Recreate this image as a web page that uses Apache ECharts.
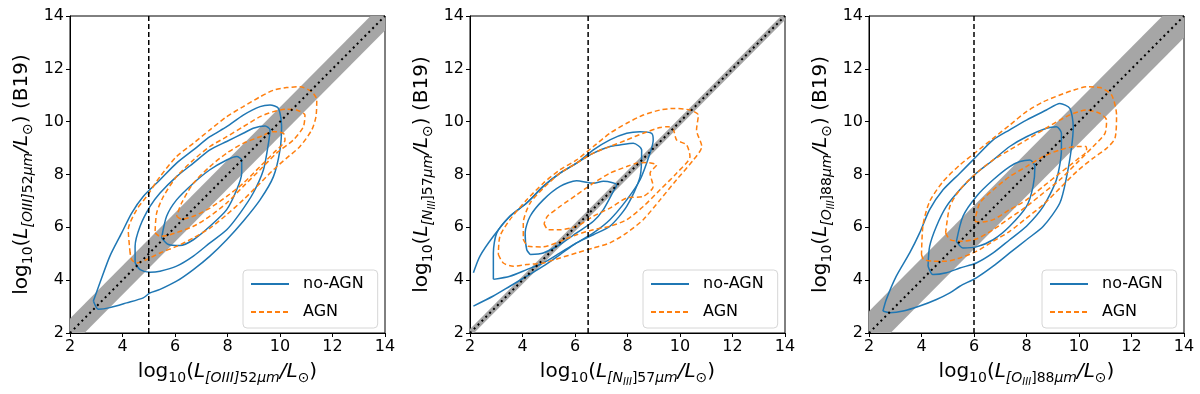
<!DOCTYPE html>
<html>
<head>
<meta charset="utf-8">
<script src="https://cdn.jsdelivr.net/npm/echarts@6/dist/echarts.min.js"></script>
<style>
  html, body { margin: 0; padding: 0; background: #fff; }
  #chart { width: 1200px; height: 394px; }
</style>
</head>
<body>
<div id="chart"></div>
<script>
// axis ticks (same on every panel)
const ticks = [2, 4, 6, 8, 10, 12, 14];

// vertical threshold line, half width of grey band around y = x
const vlineX = [5, 6.5, 6];
const bandHalfWidth = [0.55, 0.15, 0.82];
const diagX = [2, 14];

// panel 1 : [OIII]52um
const p1NoAgn = [
  [[2.89,3.21],[3.08,2.9],[3.52,2.96],[4.16,3.14],[4.79,3.33],[5.05,3.52],[5.43,3.65],[6.06,3.96],[6.7,4.4],[7.33,4.91],[7.97,5.53],[8.6,6.23],[9.24,7.04],[9.75,7.92],[10.0,8.93],[10.06,9.81],[9.94,10.5],[9.62,10.63],[9.24,10.57],[8.6,10.25],[7.97,9.81],[7.33,9.43],[6.7,8.93],[6.06,8.43],[5.43,7.8],[4.79,7.17],[4.35,6.54],[3.97,5.79],[3.52,4.91],[3.14,3.9]],
  [[4.48,4.65],[4.67,4.4],[5.05,4.3],[5.43,4.34],[6.06,4.53],[6.7,4.91],[7.33,5.41],[7.97,5.91],[8.48,6.54],[8.98,7.3],[9.37,8.18],[9.56,9.18],[9.62,9.69],[9.43,9.84],[8.98,9.75],[8.6,9.56],[7.97,9.25],[7.33,8.93],[6.7,8.43],[6.06,7.92],[5.43,7.3],[5.05,6.79],[4.67,6.04],[4.48,5.28]],
  [[5.49,5.6],[5.75,5.35],[6.19,5.31],[6.7,5.53],[7.33,6.04],[7.97,6.67],[8.35,7.42],[8.54,8.05],[8.54,8.55],[8.35,8.68],[7.97,8.55],[7.33,8.18],[6.7,7.67],[6.06,7.04],[5.68,6.42]]
];
const p1Agn = [
  [[4.29,5.03],[4.22,5.91],[4.54,6.67],[4.92,7.17],[5.43,7.92],[6.06,8.68],[6.7,9.18],[7.33,9.69],[7.97,10.19],[8.6,10.57],[9.24,10.94],[9.75,11.19],[10.25,11.29],[10.76,11.32],[11.21,11.13],[11.4,10.82],[11.37,10.19],[11.21,9.69],[10.76,9.06],[10.25,8.62],[9.75,8.18],[9.24,7.67],[8.6,7.04],[7.97,6.48],[7.33,5.97],[6.7,5.6],[6.06,5.28],[5.43,5.03],[4.92,4.78],[4.54,4.65],[4.35,4.78]],
  [[5.24,5.79],[5.43,5.66],[5.81,5.72],[6.7,6.04],[7.33,6.42],[7.97,6.92],[8.6,7.55],[9.24,8.18],[9.87,8.81],[10.51,9.31],[10.89,9.81],[10.95,10.25],[10.63,10.44],[10.25,10.47],[9.75,10.38],[9.24,10.19],[8.6,9.81],[7.97,9.43],[7.33,9.06],[6.7,8.55],[6.06,7.92],[5.56,7.17],[5.3,6.54]],
  [[6.06,6.42],[6.25,6.31],[6.7,6.42],[7.33,6.73],[7.97,7.17],[8.6,7.67],[9.24,8.3],[9.75,8.81],[10.19,9.31],[10.13,9.56],[9.75,9.62],[9.24,9.43],[8.6,9.18],[7.97,8.81],[7.33,8.3],[6.7,7.67],[6.25,6.92]]
];

// panel 2 : [NIII]57um (outer no-AGN contour runs off the left edge)
const p2NoAgn = [
  [[2.13,4.28],[2.38,4.91],[2.89,5.66],[3.52,6.42],[4.16,6.92],[4.79,7.55],[5.43,8.05],[6.06,8.43],[6.7,8.93],[7.33,9.31],[7.97,9.56],[8.48,9.62],[8.92,9.56],[8.98,9.31],[8.86,8.81],[8.48,7.8],[7.97,7.04],[7.33,6.29],[6.7,5.79],[6.06,5.41],[5.43,4.97],[4.79,4.53],[4.16,4.15],[3.52,3.77],[2.89,3.4],[2.13,3.02]],
  [[2.89,4.03],[3.52,4.15],[4.16,4.4],[4.79,4.65],[5.43,5.03],[6.06,5.41],[6.7,5.72],[7.33,6.04],[7.97,6.79],[8.48,7.92],[8.54,8.93],[8.22,9.18],[7.71,9.12],[7.33,9.06],[6.7,8.81],[6.06,8.43],[5.43,8.05],[4.79,7.55],[4.16,6.92],[3.52,6.42],[3.02,5.79],[2.89,5.03]],
  [[4.29,4.97],[4.79,5.03],[5.43,5.35],[6.06,5.79],[6.7,6.23],[7.08,6.67],[7.46,7.36],[7.59,7.61],[7.4,7.7],[7.08,7.74],[6.7,7.67],[6.06,7.76],[5.43,7.55],[4.79,7.04],[4.29,6.42],[4.1,5.79],[4.16,5.16]]
];
const p2Agn = [
  [[3.08,4.97],[3.27,4.65],[3.65,4.53],[4.16,4.59],[4.79,4.65],[5.43,4.84],[6.06,5.03],[6.7,5.22],[7.33,5.41],[7.97,5.79],[8.6,6.29],[9.24,7.04],[9.87,7.8],[10.51,8.55],[10.83,9.06],[10.63,9.69],[10.7,10.25],[10.38,10.44],[9.75,10.5],[9.24,10.44],[8.6,10.25],[7.97,9.94],[7.33,9.56],[6.7,9.06],[6.06,8.55],[5.43,8.18],[4.79,7.67],[4.16,7.04],[3.52,6.29],[3.14,5.66]],
  [[4.03,5.54],[4.22,5.28],[4.79,5.26],[5.43,5.47],[6.06,5.72],[6.7,5.91],[7.33,6.04],[7.97,6.29],[8.6,6.79],[9.24,7.42],[9.87,8.05],[10.38,8.68],[10.25,9.12],[9.87,9.31],[9.75,9.69],[9.56,9.81],[9.24,9.78],[8.6,9.56],[7.97,9.31],[7.33,9.06],[6.7,8.81],[6.06,8.43],[5.43,8.05],[4.79,7.48],[4.29,6.92],[4.03,6.16]],
  [[4.82,6.14],[4.98,5.91],[5.43,5.91],[6.06,6.04],[6.7,6.42],[7.33,6.73],[7.97,7.11],[8.6,7.17],[8.98,7.55],[8.86,8.05],[9.11,8.36],[8.73,8.45],[8.35,8.43],[7.97,8.3],[7.33,8.05],[6.7,7.67],[6.06,7.23],[5.43,6.79],[4.95,6.42]]
];

// panel 3 : [OIII]88um
const p3NoAgn = [
  [[2.53,2.83],[2.79,2.77],[3.3,2.83],[3.93,3.02],[4.57,3.27],[5.08,3.52],[5.46,3.77],[6.09,4.09],[6.73,4.53],[7.36,5.03],[8.0,5.53],[8.64,6.04],[9.27,6.92],[9.53,7.92],[9.72,9.06],[9.78,9.81],[9.65,10.5],[9.27,10.69],[8.76,10.44],[8.0,10.06],[7.36,9.69],[6.73,9.31],[6.09,8.68],[5.46,8.05],[4.82,7.42],[4.31,6.67],[3.93,5.79],[3.55,5.03],[3.04,4.15],[2.66,3.27]],
  [[4.25,4.53],[4.44,4.21],[4.95,4.28],[5.46,4.46],[6.09,4.65],[6.73,5.03],[7.36,5.53],[8.0,6.04],[8.64,6.79],[9.14,7.8],[9.33,8.93],[9.33,9.56],[9.14,9.81],[8.76,9.75],[8.0,9.43],[7.36,9.06],[6.73,8.55],[6.09,8.05],[5.46,7.42],[4.95,6.79],[4.57,6.04],[4.31,5.28]],
  [[5.33,5.47],[5.58,5.22],[6.09,5.26],[6.73,5.53],[7.36,6.04],[8.0,6.79],[8.25,7.55],[8.32,8.3],[8.13,8.55],[7.75,8.49],[7.36,8.3],[6.73,7.8],[6.09,7.17],[5.58,6.42]]
];
const p3Agn = [
  [[4.0,4.97],[4.08,4.78],[4.44,4.72],[4.95,4.72],[5.46,4.84],[6.09,5.09],[6.73,5.47],[7.36,5.85],[8.0,6.35],[8.64,6.86],[9.27,7.48],[9.91,8.11],[10.54,8.62],[11.05,8.99],[11.37,9.37],[11.43,10.25],[11.24,11.01],[10.8,11.29],[10.29,11.32],[9.78,11.19],[9.27,11.01],[8.64,10.75],[8.0,10.38],[7.36,9.87],[6.73,9.37],[6.09,8.86],[5.46,8.36],[4.82,7.73],[4.31,6.98],[4.06,6.1]],
  [[4.92,5.79],[5.08,5.54],[5.46,5.47],[6.09,5.56],[6.73,5.91],[7.36,6.35],[8.0,6.79],[8.64,7.3],[9.27,7.8],[9.91,8.43],[10.54,9.06],[10.99,9.56],[11.05,10.06],[10.8,10.31],[10.29,10.44],[9.78,10.31],[9.27,10.06],[8.64,9.69],[8.0,9.31],[7.36,8.93],[6.73,8.55],[6.09,8.05],[5.46,7.42],[5.08,6.79]],
  [[6.03,6.23],[6.22,6.19],[6.73,6.29],[7.36,6.67],[8.0,7.04],[8.64,7.55],[9.27,8.05],[9.91,8.55],[10.29,8.9],[10.26,9.06],[9.91,9.06],[9.27,8.93],[8.64,8.68],[8.0,8.3],[7.36,7.92],[6.73,7.42],[6.22,6.92]]
];

const noAgnSets = [p1NoAgn, p2NoAgn, p3NoAgn];
const agnSets = [p1Agn, p2Agn, p3Agn];
const openOuter = [false, true, false];

// line label pieces: subscript, nested subscript, rest of subscript
const lineNames = [
  ["[OIII]", "", "52"],
  ["[N", "III", "]57"],
  ["[O", "III", "]88"]
];

const gridLefts = [70, 470, 869];
const FONT = "DejaVu Sans";

function axisName(i, withRef) {
  const n = lineNames[i];
  let s = "{b|log}{s|10}{b|(}{i|L}{si|" + n[0] + "}";
  if (n[1]) s += "{ssi|" + n[1] + "}";
  s += "{s|" + n[2] + "}{si|μm}{i|/L}{s|⊙}{b|)}";
  if (withRef) s += "{b| (B19)}";
  return s;
}

const rich = {
  b: { fontFamily: FONT, fontSize: 20, color: "#000", verticalAlign: "top", lineHeight: 24 },
  i: { fontFamily: FONT, fontSize: 20, color: "#000", fontStyle: "italic", verticalAlign: "top", lineHeight: 24 },
  s: { fontFamily: FONT, fontSize: 14, color: "#000", verticalAlign: "top", padding: [9, 0, 0, 0], lineHeight: 14 },
  si: { fontFamily: FONT, fontSize: 14, color: "#000", fontStyle: "italic", verticalAlign: "top", padding: [9, 0, 0, 0], lineHeight: 14 },
  ssi: { fontFamily: FONT, fontSize: 10, color: "#000", fontStyle: "italic", verticalAlign: "top", padding: [15, 0, 0, 0], lineHeight: 10 }
};

const grids = [], xAxes = [], yAxes = [], legends = [], series = [];

gridLefts.forEach((left, i) => {
  grids.push({ left: left, top: 16, width: 315, height: 317, show: true, borderColor: "#000", borderWidth: 1 });
  const common = {
    type: "value", min: ticks[0], max: ticks[ticks.length - 1], interval: 2, gridIndex: i,
    splitLine: { show: false },
    axisLine: { show: true, lineStyle: { color: "#000", width: 1 } },
    axisTick: { show: true, length: 4, lineStyle: { color: "#000" } },
    axisLabel: { fontFamily: FONT, fontSize: 16, color: "#000", margin: 6 },
    nameLocation: "middle",
    nameTextStyle: { rich: rich }
  };
  xAxes.push(Object.assign({}, common, { name: axisName(i, false), nameGap: 29 }));
  yAxes.push(Object.assign({}, common, { name: axisName(i, true), nameGap: 34, nameRotate: 90 }));

  legends.push({
    left: left + 173, top: 270, orient: "vertical",
    data: ["no-AGN", "AGN"],
    itemWidth: 38, itemHeight: 14, itemGap: 12,
    padding: [6, 14, 8, 7],
    borderColor: "#d6d6d6", borderWidth: 1, borderRadius: 4,
    backgroundColor: "rgba(255,255,255,0.8)",
    itemStyle: { opacity: 0 },
    textStyle: { fontFamily: FONT, fontSize: 16, color: "#000", padding: [0, 0, 0, 9] },
    selectedMode: false
  });

  // grey band around the 1:1 relation
  const hw = bandHalfWidth[i];
  series.push({
    type: "custom", xAxisIndex: i, yAxisIndex: i, z: 1, silent: true,
    data: diagX.map(x => [x, x]),
    renderItem: function (params, api) {
      if (params.dataIndex !== 0) return;
      const lower = diagX.map(x => api.coord([x, x - hw]));
      const upper = diagX.slice().reverse().map(x => api.coord([x, x + hw]));
      const cs = params.coordSys;
      return {
        type: "polygon",
        shape: { points: lower.concat(upper) },
        style: { fill: "#a6a6a6" },
        clipPath: { type: "rect", shape: { x: cs.x, y: cs.y, width: cs.width, height: cs.height } }
      };
    }
  });

  noAgnSets[i].forEach((lvl, k) => {
    const pts = (k === 0 && openOuter[i]) ? lvl : lvl.concat([lvl[0]]);
    series.push({
      name: "no-AGN", type: "line", xAxisIndex: i, yAxisIndex: i, z: 3,
      data: pts, symbol: "none", smooth: 0.25,
      lineStyle: { color: "#1f77b4", width: 1.5 }, itemStyle: { color: "#1f77b4" }
    });
  });
  agnSets[i].forEach(lvl => {
    series.push({
      name: "AGN", type: "line", xAxisIndex: i, yAxisIndex: i, z: 3,
      data: lvl.concat([lvl[0]]), symbol: "none", smooth: 0.25,
      lineStyle: { color: "#ff7f0e", width: 1.5, type: [5, 3] }, itemStyle: { color: "#ff7f0e" }
    });
  });

  // 1:1 line
  series.push({
    type: "line", xAxisIndex: i, yAxisIndex: i, z: 4, silent: true,
    data: diagX.map(x => [x, x]), symbol: "none",
    lineStyle: { color: "#000", width: 2, type: [2, 3.5] }
  });
  // vertical dashed threshold
  series.push({
    type: "line", xAxisIndex: i, yAxisIndex: i, z: 4, silent: true,
    data: [[vlineX[i], ticks[0]], [vlineX[i], ticks[ticks.length - 1]]], symbol: "none",
    lineStyle: { color: "#000", width: 1.5, type: [5, 3] }
  });
});

const chart = echarts.init(document.getElementById("chart"));
chart.setOption({
  animation: false,
  backgroundColor: "#fff",
  grid: grids,
  xAxis: xAxes,
  yAxis: yAxes,
  legend: legends,
  series: series
});
</script>
</body>
</html>
